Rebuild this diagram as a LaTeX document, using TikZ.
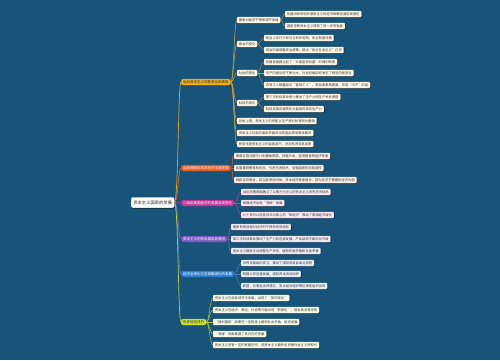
\documentclass[tikz,border=0pt]{standalone}
\usepackage{fontspec}
\newfontfamily\cjk{Noto Sans CJK SC}
\usetikzlibrary{shadows}

\definecolor{bgblue}{HTML}{18547A}
\definecolor{cOne}{HTML}{F2B222}
\definecolor{cTwo}{HTML}{E5602B}
\definecolor{cThree}{HTML}{C63A9C}
\definecolor{cFour}{HTML}{7E5AC2}
\definecolor{cFive}{HTML}{2F7FCE}
\definecolor{cSix}{HTML}{CBE23C}

\tikzset{
  rootbox/.style={draw=black!30, fill=white, text=black!85, rounded corners=2pt,
    line width=0.3pt, inner xsep=2.2pt, inner ysep=0pt, minimum height=10.5pt, anchor=west,
    font=\cjk\fontsize{4.3}{4.3}\selectfont,
    drop shadow={shadow xshift=0.8pt, shadow yshift=-0.8pt, fill=black, opacity=0.5}},
  branch/.style={fill=#1, draw=#1!80!black, text=white, rounded corners=2pt,
    line width=0.3pt, inner xsep=2pt, inner ysep=0pt, minimum height=6pt, anchor=west,
    font=\cjk\fontsize{3.5}{3.5}\selectfont},
  leaf/.style={draw=#1!45!white, fill=#1!9!white, text=black!80, rounded corners=0.8pt,
    line width=0.2pt, inner xsep=1.8pt, inner ysep=0pt, minimum height=6pt, anchor=west,
    font=\cjk\fontsize{3.3}{3.3}\selectfont,
    drop shadow={shadow xshift=0.7pt, shadow yshift=-0.7pt, fill=black, opacity=0.55}},
  trunk/.style={draw=#1!75!gray, line width=0.7pt},
  twig/.style={draw=#1!70!gray, line width=0.5pt},
  sprig/.style={draw=#1!60!gray, line width=0.35pt}
}

\begin{document}
\begin{tikzpicture}[x=1pt, y=-1pt]
  \def\xB{181}   % column of the main branches
  \def\xL{237}   % second level of the first branch
  \def\xM{264}   % third level, short parents
  \fill[bgblue] (0,0) rectangle (500,360);

  \node[rootbox] (root) at (131,202.5) {资本主义国家的发展};

  \node[branch=cOne, text=black!85] (bOne) at (\xB,82) {战后资本主义的新变化和表现};
  \node[branch=cTwo] (bTwo) at (\xB,168) {战后西欧和日本经济迅速发展};
  \node[branch=cThree] (bThree) at (\xB,203) {二战后美国经济的发展及其变化};
  \node[branch=cFour] (bFour) at (\xB,239) {资本主义的新发展及其原因};
  \node[branch=cFive] (bFive) at (\xB,274) {经济全球化与区域集团化的发展};
  \node[branch=cSix, text=black!85] (bSix) at (\xB,322) {历史地位评价};

  \foreach \b/\c in {bOne/cOne,bTwo/cTwo,bThree/cThree,bFour/cFour,bFive/cFive,bSix/cSix}
    \draw[trunk=\c] (root.east) .. controls +(4,0) and +(-3,0) .. (\b.west);

  % first branch
  \foreach \n/\y/\txt in {Ea/20/国家对经济干预和调节加强, Eb/44/政治的变化, Ec/73/社会的变化,
      Ed/103/科技的变化, Ee/121/总体上看，资本主义仍然是以生产资料私有制为基础,
      Ef/133/资本主义社会的基本矛盾并没有因此得到根本解决,
      Eg/144/新变化是资本主义的自我调节，并没有改变其本质} {
    \node[leaf=cOne] (\n) at (\xL,\y) {\txt};
    \draw[twig=cOne] (bOne.east) .. controls +(3,0) and +(-3,0) .. (\n.west);
  }
  \foreach \n/\y/\txt in {Ea1/14/各国纷纷采用凯恩斯主义的经济政策加强宏观调控,
      Ea2/26/国家垄断资本主义得到了进一步的发展} {
    \node[leaf=cOne] (\n) at (285,\y) {\txt};
    \draw[sprig=cOne] (Ea.east) .. controls +(2,0) and +(-2,0) .. (\n.west);
  }
  \foreach \n/\y/\txt in {Eb1/38/政治上实行三权分立和多党制，民主制度完善,
      Eb2/50/统治阶级调整统治政策，提出“民主社会主义”口号} {
    \node[leaf=cOne] (\n) at (\xM,\y) {\txt};
    \draw[sprig=cOne] (Eb.east) .. controls +(3,0) and +(-3,0) .. (\n.west);
  }
  \foreach \n/\y/\txt in {Ec1/62/各国普遍建立起了“从摇篮到坟墓”的福利制度,
      Ec2/73/中产阶级队伍不断壮大，社会阶级结构发生了明显的新变化,
      Ec3/85/白领工人数量超过“蓝领工人”，劳动者素质提高，形成“中产”阶层} {
    \node[leaf=cOne] (\n) at (\xM,\y) {\txt};
    \draw[sprig=cOne] (Ec.east) .. controls +(3,0) and +(-3,0) .. (\n.west);
  }
  \foreach \n/\y/\txt in {Ed1/97/第三次科技革命有力推动了生产力和生产关系调整,
      Ed2/109/科技成果迅速转化为直接的现实生产力} {
    \node[leaf=cOne] (\n) at (\xM,\y) {\txt};
    \draw[sprig=cOne] (Ed.east) .. controls +(3,0) and +(-3,0) .. (\n.west);
  }

  % second branch
  \foreach \n/\y/\txt in {T1/156/美国实施马歇尔计划援助西欧，扶植日本，促进两者的经济恢复,
      T2/168/各国重视教育和科技，引进先进技术，加强国家的宏观调控,
      T3/180/西欧走向联合，成立欧洲共同体；日本经济高速增长，成为仅次于美国的经济大国} {
    \node[leaf=cTwo] (\n) at (234,\y) {\txt};
    \draw[twig=cTwo] (bTwo.east) .. controls +(3,0) and +(-3,0) .. (\n.west);
  }

  % third branch
  \foreach \n/\y/\txt in {H1/192/战后初期美国确立了以美元为中心的资本主义世界货币体系,
      H2/203/美国经济出现“滞胀”局面,
      H3/215/九十年代以信息技术为核心的“新经济”推动了美国经济增长} {
    \node[leaf=cThree] (\n) at (241,\y) {\txt};
    \draw[twig=cThree] (bThree.east) .. controls +(3,0) and +(-3,0) .. (\n.west);
  }

  % fourth branch
  \foreach \n/\y/\txt in {F1/227/国家有效加强对经济的干预和宏观调控,
      F2/239/第三次科技革命推动了生产力的迅速发展，产业结构不断优化升级,
      F3/251/资本主义国家主动调整生产关系，缓和阶级矛盾和社会矛盾} {
    \node[leaf=cFour] (\n) at (231,\y) {\txt};
    \draw[twig=cFour] (bFour.east) .. controls +(3,0) and +(-3,0) .. (\n.west);
  }

  % fifth branch
  \foreach \n/\y/\txt in {V1/263/世界贸易组织成立，推动了国际贸易自由化进程,
      V2/274/跨国公司迅速发展，国际资本流动加快,
      V3/286/欧盟、北美自由贸易区、亚太经合组织等区域性组织出现} {
    \node[leaf=cFive] (\n) at (241,\y) {\txt};
    \draw[twig=cFive] (bFive.east) .. controls +(3,0) and +(-3,0) .. (\n.west);
  }

  % sixth branch
  \foreach \n/\y/\txt in {S1/298/资本主义在自我调节中发展，出现了“新的变化”,
      S2/310/资本主义在经济、政治、社会等方面出现“新变化”，但本质没有改变,
      S3/322/“福利国家”政策在一定程度上缓和社会矛盾，促进发展,
      S4/334/“滞胀”现象暴露了其内在的矛盾,
      S5/345/资本主义还有一定的发展空间，但资本主义最终必将被社会主义所取代} {
    \node[leaf=cSix] (\n) at (213,\y) {\txt};
    \draw[twig=cSix] (bSix.east) .. controls +(3,0) and +(-3,0) .. (\n.west);
  }
\end{tikzpicture}
\end{document}
